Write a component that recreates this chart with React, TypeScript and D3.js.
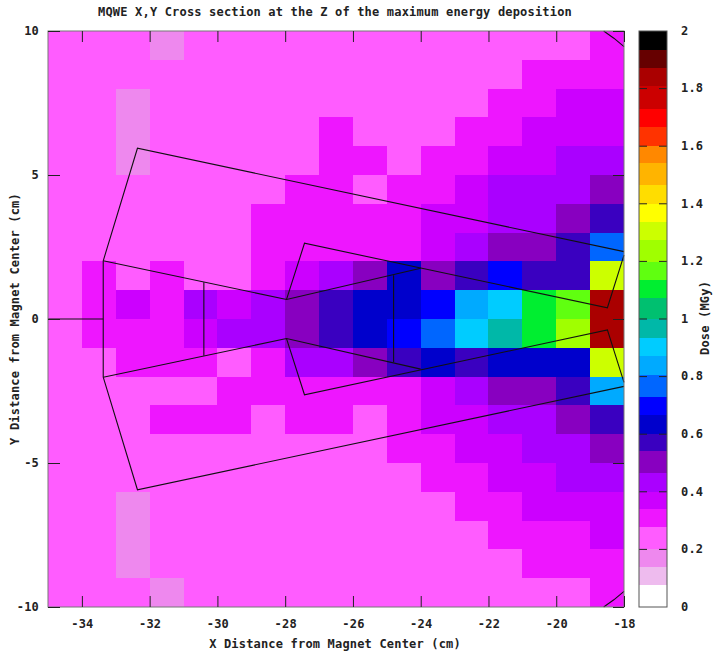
import React, { useEffect, useRef } from 'react';
import * as d3 from 'd3';

const title = 'MQWE X,Y Cross section at the Z of the maximum energy deposition';
const xLabel = 'X Distance from Magnet Center (cm)';
const yLabel = 'Y Distance from Magnet Center (cm)';
const barLabel = 'Dose (MGy)';

const xTicks = [-34, -32, -30, -28, -26, -24, -22, -20, -18];
const yTicks = [-10, -5, 0, 5, 10];
const barTicks = [0, 0.2, 0.4, 0.6, 0.8, 1, 1.2, 1.4, 1.6, 1.8, 2];

// left edge of each 1 cm column
const xBins = [-35, -34, -33, -32, -31, -30, -29, -28, -27, -26, -25, -24, -23, -22, -21, -20, -19];
// top edge of each 1 cm row
const yBins = [10, 9, 8, 7, 6, 5, 4, 3, 2, 1, 0, -1, -2, -3, -4, -5, -6, -7, -8, -9];

// dose in MGy, top row first
const dose = [
  [.24, .24, .24, .17, .24, .24, .24, .24, .24, .24, .24, .24, .24, .24, .24, .24, .31],
  [.24, .24, .24, .24, .24, .24, .24, .24, .24, .24, .24, .24, .24, .24, .31, .31, .31],
  [.24, .24, .17, .24, .24, .24, .24, .24, .24, .24, .24, .24, .24, .31, .31, .37, .37],
  [.24, .24, .17, .24, .24, .24, .24, .24, .31, .24, .24, .24, .31, .31, .37, .37, .37],
  [.24, .24, .17, .24, .24, .24, .24, .24, .31, .31, .24, .31, .31, .37, .37, .43, .43],
  [.24, .24, .24, .24, .24, .24, .24, .31, .31, .24, .31, .31, .37, .43, .43, .43, .50],
  [.24, .24, .24, .24, .24, .24, .31, .31, .31, .31, .31, .37, .37, .43, .43, .50, .57],
  [.24, .24, .24, .24, .24, .24, .31, .31, .31, .31, .31, .37, .43, .50, .50, .57, .77],
  [.24, .31, .24, .31, .24, .24, .31, .37, .43, .50, .63, .50, .57, .70, .57, .57, 1.31],
  [.24, .31, .37, .31, .43, .37, .43, .50, .57, .63, .63, .70, .84, .90, 1.10, 1.17, 1.84],
  [.24, .31, .31, .31, .37, .43, .43, .50, .57, .63, .70, .77, .90, .97, 1.10, 1.24, 1.84],
  [.24, .24, .31, .31, .31, .24, .31, .43, .43, .50, .57, .63, .57, .63, .63, .63, 1.31],
  [.24, .24, .24, .24, .24, .31, .31, .31, .31, .31, .31, .37, .43, .50, .50, .57, .84],
  [.24, .24, .24, .31, .31, .31, .24, .31, .31, .24, .31, .37, .37, .43, .43, .50, .57],
  [.24, .24, .24, .24, .24, .24, .24, .24, .24, .24, .31, .31, .37, .37, .43, .43, .50],
  [.24, .24, .24, .24, .24, .24, .24, .24, .24, .24, .24, .31, .31, .37, .37, .43, .43],
  [.24, .24, .17, .24, .24, .24, .24, .24, .24, .24, .24, .24, .31, .31, .37, .37, .37],
  [.24, .24, .17, .24, .24, .24, .24, .24, .24, .24, .24, .24, .24, .31, .31, .31, .37],
  [.24, .24, .17, .24, .24, .24, .24, .24, .24, .24, .24, .24, .24, .24, .31, .31, .31],
  [.24, .24, .24, .17, .24, .24, .24, .24, .24, .24, .24, .24, .24, .24, .24, .24, .31],
];

// palette, low to high, and the band limits as they appear on the colour bar
const palette = [
  '#ffffff', '#eebbee', '#ee88ee', '#ff5cff', '#ee16ff', '#cc00ff', '#aa00ff', '#8800c0', '#3a00c0', '#0000cc',
  '#0000ff', '#0066ff', '#00aaff', '#00ccff', '#00b8a8', '#00c070', '#00ee30', '#60ff10', '#a0ff00', '#ccff00',
  '#ffff00', '#ffdd00', '#ffb400', '#ff8800', '#ff3300', '#ff0000', '#cc0000', '#aa0000', '#660000', '#000000',
];
const bandLimits = [
  0.075, 0.138, 0.2, 0.278, 0.34, 0.4, 0.465, 0.543, 0.602, 0.668,
  0.73, 0.805, 0.873, 0.935, 1.0, 1.073, 1.135, 1.198, 1.276, 1.337,
  1.4, 1.464, 1.542, 1.6, 1.667, 1.73, 1.809, 1.872, 1.935,
];

// magnet outline, in cm
const outlines: [number, number][][] = [
  [[-35, 0], [-33.37, 0]],
  [[-33.37, 2.02], [-33.37, -2.02]],
  [[-30.4, 1.28], [-30.4, -1.28]],
  [[-24.8, 1.52], [-24.8, -1.5]],
  [[-33.37, 2.02], [-32.36, 5.93], [-18, 2.34]],
  [[-33.37, 2.02], [-27.96, 0.68], [-24, 1.76]],
  [[-27.96, 0.68], [-27.43, 2.63], [-18.49, 0.39], [-18, 2.22]],
  [[-33.37, -2.02], [-32.36, -5.93], [-18, -2.34]],
  [[-33.37, -2.02], [-27.96, -0.68], [-24, -1.74]],
  [[-27.96, -0.68], [-27.43, -2.63], [-18.49, -0.38], [-18, -2.2]],
  [[-18.6, 10], [-18.3, 9.75], [-18, 9.46]],
  [[-18.6, -10], [-18.3, -9.75], [-18, -9.46]],
];

const font = '"DejaVu Sans Mono", monospace';

const App = () => {
  const ref = useRef<SVGSVGElement>(null);

  useEffect(() => {
    const margin = { left: 48, right: 624, top: 31, bottom: 607 };
    const svg = d3.select(ref.current);
    svg.selectAll('*').remove();

    const x = d3.scaleLinear().domain([-35, -18]).range([margin.left, margin.right]);
    const y = d3.scaleLinear().domain([-10, 10]).range([margin.bottom, margin.top]);
    const barY = d3.scaleLinear().domain([0, 2]).range([margin.bottom, margin.top]);
    const color = d3.scaleThreshold<number, string>().domain(bandLimits).range(palette);

    // heat map cells
    const cells = svg.append('g').attr('shape-rendering', 'crispEdges');
    dose.forEach((row, r) => {
      cells
        .selectAll(`rect.row${r}`)
        .data(row)
        .enter()
        .append('rect')
        .attr('x', (_, c) => x(xBins[c]))
        .attr('y', y(yBins[r]))
        .attr('width', (_, c) => x(xBins[c] + 1) - x(xBins[c]))
        .attr('height', y(yBins[r] - 1) - y(yBins[r]))
        .attr('fill', (d) => color(d));
    });

    // outline of the magnet
    const line = d3.line<[number, number]>().x((d) => x(d[0])).y((d) => y(d[1]));
    svg
      .append('g')
      .selectAll('path')
      .data(outlines)
      .enter()
      .append('path')
      .attr('d', (d) => line(d))
      .attr('fill', 'none')
      .attr('stroke', '#111')
      .attr('stroke-width', 1.1);

    svg
      .append('rect')
      .attr('x', margin.left)
      .attr('y', margin.top)
      .attr('width', margin.right - margin.left)
      .attr('height', margin.bottom - margin.top)
      .attr('fill', 'none')
      .attr('stroke', '#777');

    // axes, gnuplot style ticks pointing inwards on all sides
    const tickText = (g: any) => {
      g.selectAll('.domain').remove();
      g.selectAll('line').attr('stroke', '#222');
      g.selectAll('text')
        .attr('fill', '#222')
        .style('font-family', font)
        .style('font-weight', 'bold')
        .style('font-size', '12px')
        .style('letter-spacing', '0.18px');
    };

    svg
      .append('g')
      .attr('transform', `translate(0,${margin.bottom})`)
      .call(d3.axisBottom(x).tickValues(xTicks).tickFormat((d) => `${d}`).tickSizeInner(-11).tickPadding(12).tickSizeOuter(0))
      .call(tickText);
    svg
      .append('g')
      .attr('transform', `translate(0,${margin.top})`)
      .call(d3.axisTop(x).tickValues(xTicks).tickFormat(() => '').tickSizeInner(-11).tickSizeOuter(0))
      .call(tickText);
    svg
      .append('g')
      .attr('transform', `translate(${margin.left},0)`)
      .call(d3.axisLeft(y).tickValues(yTicks).tickFormat((d) => `${d}`).tickSizeInner(-12).tickPadding(9).tickSizeOuter(0))
      .call(tickText);
    svg
      .append('g')
      .attr('transform', `translate(${margin.right},0)`)
      .call(d3.axisRight(y).tickValues(yTicks).tickFormat(() => '').tickSizeInner(-11).tickSizeOuter(0))
      .call(tickText);

    // colour bar
    const barLeft = 639;
    const barRight = 667;
    const bandEdges = [0, ...bandLimits, 2];
    svg
      .append('g')
      .attr('shape-rendering', 'crispEdges')
      .selectAll('rect')
      .data(palette)
      .enter()
      .append('rect')
      .attr('x', barLeft)
      .attr('width', barRight - barLeft)
      .attr('y', (_, i) => barY(bandEdges[i + 1]))
      .attr('height', (_, i) => barY(bandEdges[i]) - barY(bandEdges[i + 1]))
      .attr('fill', (d) => d);

    const barTickG = svg.append('g');
    barTickG
      .selectAll('line.left')
      .data(barTicks.slice(1, -1))
      .enter()
      .append('line')
      .attr('class', 'left')
      .attr('x1', barLeft)
      .attr('x2', barLeft + 8)
      .attr('y1', (d) => barY(d))
      .attr('y2', (d) => barY(d))
      .attr('stroke', '#222');
    barTickG
      .selectAll('line.right')
      .data(barTicks.slice(1, -1))
      .enter()
      .append('line')
      .attr('class', 'right')
      .attr('x1', barRight - 8)
      .attr('x2', barRight)
      .attr('y1', (d) => barY(d))
      .attr('y2', (d) => barY(d))
      .attr('stroke', '#222');
    barTickG
      .selectAll('text')
      .data(barTicks)
      .enter()
      .append('text')
      .attr('x', 681)
      .attr('y', (d) => barY(d))
      .attr('dy', '0.32em')
      .attr('fill', '#222')
      .style('font-family', font)
      .style('font-weight', 'bold')
      .style('font-size', '12px')
      .style('letter-spacing', '0.18px')
      .text((d) => `${d}`);

    svg
      .append('rect')
      .attr('x', barLeft)
      .attr('y', margin.top)
      .attr('width', barRight - barLeft)
      .attr('height', margin.bottom - margin.top)
      .attr('fill', 'none')
      .attr('stroke', '#555');

    // titles
    const label = (text: string, tx: number, ty: number, rotate = 0) =>
      svg
        .append('text')
        .attr('transform', `translate(${tx},${ty}) rotate(${rotate})`)
        .attr('text-anchor', 'middle')
        .attr('fill', '#222')
        .style('font-family', font)
        .style('font-weight', 'bold')
        .style('font-size', '12px')
        .style('letter-spacing', '0.18px')
        .text(text);

    label(title, 335, 16);
    label(xLabel, 335, 648);
    label(yLabel, 19, 319, -90);
    label(barLabel, 709, 318, -90);
  }, []);

  return <svg ref={ref} width={713} height={655} style={{ position: 'absolute', left: 0, top: 0, background: '#fff' }} />;
};

export default App;
